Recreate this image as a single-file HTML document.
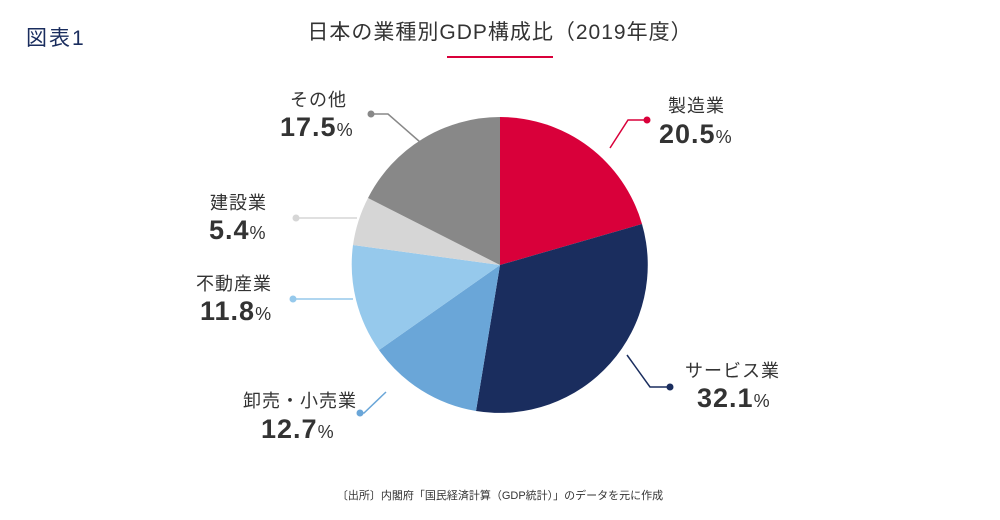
<!DOCTYPE html>
<html><head><meta charset="utf-8"><style>
html,body{margin:0;padding:0;background:#fff;}
body{width:1000px;height:520px;position:relative;overflow:hidden;font-family:"Liberation Sans","Noto Sans CJK JP",sans-serif;color:#333;}
.t{position:absolute;white-space:nowrap;}
.n{font-size:18px;color:#333;letter-spacing:1px;}
.v{font-size:27px;font-weight:bold;color:#333;letter-spacing:1px;}
.v small{font-size:18px;font-weight:normal;letter-spacing:0;}
</style></head><body>
<div class="t" style="left:26px;top:22px;font-size:21px;color:#1a2d5e;letter-spacing:2px;">図表1</div>
<div class="t" style="left:0;width:1000px;text-align:center;top:16px;font-size:21px;letter-spacing:1px;">日本の業種別GDP構成比（2019年度）</div>
<div style="position:absolute;left:447px;top:56px;width:106px;height:2px;background:#d9003a;"></div>
<svg width="1000" height="520" style="position:absolute;left:0;top:0">
<path d="M500,265 L500,117 A148,148 0 0 1 642,224 Z" fill="#d9003a"/>
<path d="M500,265 L642,224 A148,148 0 0 1 476,411 Z" fill="#1a2d5e"/>
<path d="M500,265 L476,411 A148,148 0 0 1 379,350 Z" fill="#6aa6d8"/>
<path d="M500,265 L379,350 A148,148 0 0 1 353,245 Z" fill="#96c9ec"/>
<path d="M500,265 L353,245 A148,148 0 0 1 368,198 Z" fill="#d6d6d6"/>
<path d="M500,265 L368,198 A148,148 0 0 1 500,117 Z" fill="#888888"/>
<polyline points="610,148 628,120 647,120" fill="none" stroke="#d9003a" stroke-width="1.5"/><circle cx="647" cy="120" r="3.5" fill="#d9003a"/>
<polyline points="627,355 650,387 670,387" fill="none" stroke="#1a2d5e" stroke-width="1.5"/><circle cx="670" cy="387" r="3.5" fill="#1a2d5e"/>
<polyline points="386,392 364,413 360,413" fill="none" stroke="#6aa6d8" stroke-width="1.5"/><circle cx="360" cy="413" r="3.5" fill="#6aa6d8"/>
<line x1="293" y1="299" x2="353" y2="299" stroke="#96c9ec" stroke-width="1.5"/><circle cx="293" cy="299" r="3.5" fill="#96c9ec"/>
<line x1="296" y1="218" x2="357" y2="218" stroke="#d6d6d6" stroke-width="1.5"/><circle cx="296" cy="218" r="3.5" fill="#d6d6d6"/>
<polyline points="371,114 388,114 420,142" fill="none" stroke="#888" stroke-width="1.5"/><circle cx="371" cy="114" r="3.5" fill="#888"/>
</svg>
<div class="t n" style="left:668px;top:92px;">製造業</div>
<div class="t v" style="left:659px;top:119px;">20.5<small>%</small></div>
<div class="t n" style="left:685px;top:357px;">サービス業</div>
<div class="t v" style="left:697px;top:383px;">32.1<small>%</small></div>
<div class="t n" style="left:243px;top:387px;">卸売・小売業</div>
<div class="t v" style="left:261px;top:414px;">12.7<small>%</small></div>
<div class="t n" style="left:196px;top:270px;">不動産業</div>
<div class="t v" style="left:200px;top:296px;">11.8<small>%</small></div>
<div class="t n" style="left:210px;top:189px;">建設業</div>
<div class="t v" style="left:209px;top:215px;">5.4<small>%</small></div>
<div class="t n" style="left:290px;top:86px;">その他</div>
<div class="t v" style="left:280px;top:112px;">17.5<small>%</small></div>
<div class="t" style="left:0;width:1000px;text-align:center;top:487px;font-size:11px;color:#333;">〔出所〕内閣府「国民経済計算（GDP統計）」のデータを元に作成</div>
</body></html>
